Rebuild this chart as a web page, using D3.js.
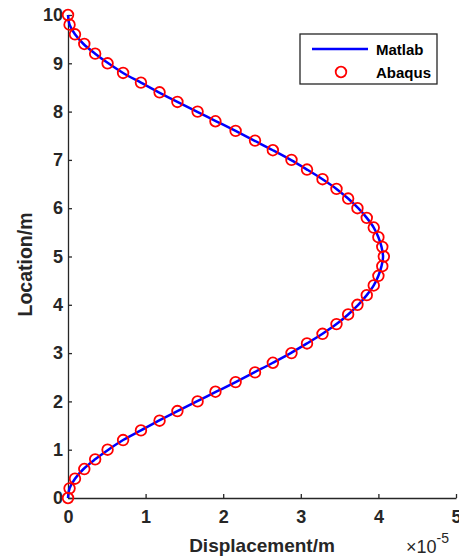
<!DOCTYPE html>
<html>
<head>
<meta charset="utf-8">
<script src="https://cdn.jsdelivr.net/npm/d3@7"></script>
<style>
  body { margin: 0; background: #fff; }
  svg { font-family: "Liberation Sans", Arial, sans-serif; }
  .axis path, .axis line { stroke: #262626; stroke-width: 1.3; }
  .axis text { fill: #262626; font-size: 18px; font-weight: bold; }
</style>
</head>
<body>
<svg id="chart" width="459" height="560"></svg>
<script>
// Abaqus nodes (location in m, displacement in 1e-5 m)
var abaqusLoc = [0, 0.2, 0.4, 0.6, 0.8, 1.0, 1.2, 1.4, 1.6, 1.8, 2.0, 2.2, 2.4, 2.6, 2.8, 3.0, 3.2, 3.4, 3.6, 3.8, 4.0,
                 4.2, 4.4, 4.6, 4.8, 5.0, 5.2, 5.4, 5.6, 5.8, 6.0, 6.2, 6.4, 6.6, 6.8, 7.0, 7.2, 7.4, 7.6, 7.8, 8.0,
                 8.2, 8.4, 8.6, 8.8, 9.0, 9.2, 9.4, 9.6, 9.8, 10.0];
var abaqusDisp = [0, 0.02, 0.09, 0.21, 0.35, 0.51, 0.71, 0.94, 1.18, 1.41, 1.67, 1.90, 2.16, 2.41, 2.64, 2.88, 3.08, 3.28, 3.46, 3.61, 3.73,
                  3.85, 3.94, 4.00, 4.05, 4.07, 4.05, 4.00, 3.94, 3.85, 3.73, 3.61, 3.46, 3.28, 3.08, 2.88, 2.64, 2.41, 2.16, 1.90, 1.67,
                  1.41, 1.18, 0.94, 0.71, 0.51, 0.35, 0.21, 0.09, 0.02, 0];

// Matlab solution
var matlabLoc = abaqusLoc.slice();
var matlabDisp = [0, 0.02, 0.09, 0.20, 0.35, 0.52, 0.71, 0.94, 1.17, 1.41, 1.66, 1.91, 2.16, 2.40, 2.64, 2.87, 3.08, 3.28, 3.46, 3.61, 3.74,
                  3.85, 3.94, 4.00, 4.04, 4.06, 4.04, 4.00, 3.94, 3.85, 3.74, 3.61, 3.46, 3.28, 3.08, 2.87, 2.64, 2.40, 2.16, 1.91, 1.66,
                  1.41, 1.17, 0.94, 0.71, 0.52, 0.35, 0.20, 0.09, 0.02, 0];

var xTicks = [0, 1, 2, 3, 4, 5];
var yTicks = [0, 1, 2, 3, 4, 5, 6, 7, 8, 9, 10];

var margin = {top: 15, right: 3, bottom: 62, left: 68},
    width = 459 - margin.left - margin.right,
    height = 560 - margin.top - margin.bottom;

var x = d3.scaleLinear().domain([0, 5]).range([0, width]);
var y = d3.scaleLinear().domain([0, 10]).range([height, 0]);

var svg = d3.select("#chart");
var graph = svg.append("g")
    .attr("transform", "translate(" + margin.left + "," + margin.top + ")");

// axes (matlab style, ticks pointing in, no box)
graph.append("g")
    .attr("class", "axis")
    .attr("transform", "translate(0," + height + ")")
    .call(d3.axisBottom(x).tickValues(xTicks).tickFormat(d3.format("d"))
        .tickSizeInner(-4).tickSizeOuter(0).tickPadding(12));

graph.append("g")
    .attr("class", "axis")
    .call(d3.axisLeft(y).tickValues(yTicks).tickFormat(d3.format("d"))
        .tickSizeInner(-4).tickSizeOuter(0).tickPadding(5));

// curve
var matlabData = matlabLoc.map(function(d, i) { return {loc: d, disp: matlabDisp[i]}; });
var abaqusData = abaqusLoc.map(function(d, i) { return {loc: d, disp: abaqusDisp[i]}; });

var line = d3.line()
    .x(function(d) { return x(d.disp); })
    .y(function(d) { return y(d.loc); })
    .curve(d3.curveCatmullRom);

graph.append("path")
    .datum(matlabData)
    .attr("fill", "none")
    .attr("stroke", "#0000ff")
    .attr("stroke-width", 2.5)
    .attr("d", line);

graph.selectAll(".pt")
    .data(abaqusData)
  .enter().append("circle")
    .attr("class", "pt")
    .attr("cx", function(d) { return x(d.disp); })
    .attr("cy", function(d) { return y(d.loc); })
    .attr("r", 5.3)
    .attr("fill", "none")
    .attr("stroke", "#ff0000")
    .attr("stroke-width", 1.8);

// axis labels
svg.append("text")
    .attr("x", margin.left + width / 2)
    .attr("y", 552)
    .attr("text-anchor", "middle")
    .attr("font-size", "19px")
    .attr("font-weight", "bold")
    .attr("fill", "#262626")
    .text("Displacement/m");

svg.append("text")
    .attr("transform", "translate(32," + (margin.top + height / 2 + 8) + ") rotate(-90)")
    .attr("text-anchor", "middle")
    .attr("font-size", "19.5px")
    .attr("font-weight", "bold")
    .attr("fill", "#262626")
    .text("Location/m");

// exponent
var ex = svg.append("text")
    .attr("x", 406)
    .attr("y", 553)
    .attr("font-size", "18px")
    .attr("fill", "#262626");
ex.append("tspan").text("\u00d710");
ex.append("tspan").attr("dy", -10).attr("font-size", "14px").text("-5");

// legend
var legend = svg.append("g").attr("transform", "translate(300,34)");
legend.append("rect")
    .attr("width", 137).attr("height", 50)
    .attr("fill", "#fff").attr("stroke", "#262626").attr("stroke-width", 1.3);
legend.append("line")
    .attr("x1", 12).attr("x2", 68).attr("y1", 15).attr("y2", 15)
    .attr("stroke", "#0000ff").attr("stroke-width", 2.5);
legend.append("circle")
    .attr("cx", 41).attr("cy", 38).attr("r", 5.3)
    .attr("fill", "none").attr("stroke", "#ff0000").attr("stroke-width", 1.8);
legend.append("text")
    .attr("x", 76).attr("y", 21)
    .attr("font-size", "15px").attr("font-weight", "bold")
    .text("Matlab");
legend.append("text")
    .attr("x", 76).attr("y", 44)
    .attr("font-size", "15px").attr("font-weight", "bold")
    .text("Abaqus");
</script>
</body>
</html>
